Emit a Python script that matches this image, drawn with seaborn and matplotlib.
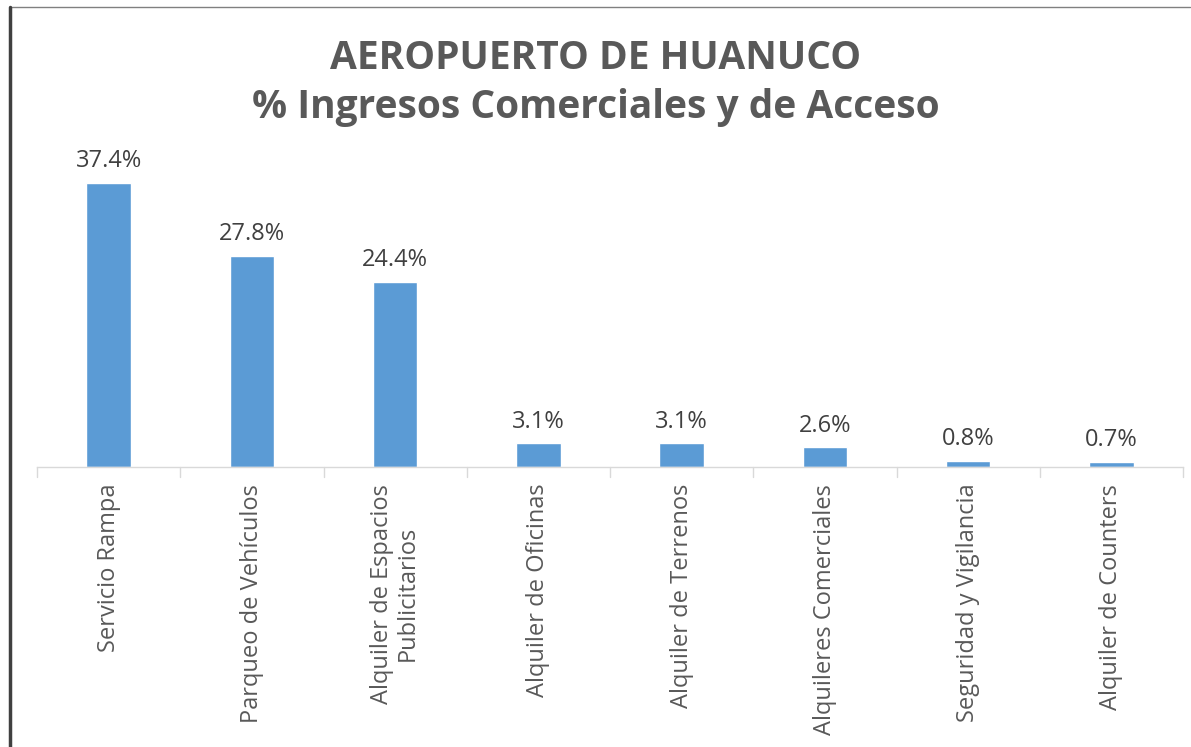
import matplotlib
matplotlib.use("Agg")
import matplotlib.pyplot as plt
import seaborn as sns
import pandas as pd
from matplotlib.lines import Line2D

# Data
categorias = ["Servicio Rampa", "Parqueo de Vehículos", "Alquiler de Espacios\nPublicitarios",
              "Alquiler de Oficinas", "Alquiler de Terrenos", "Alquileres Comerciales",
              "Seguridad y Vigilancia", "Alquiler de Counters"]
porcentajes = [37.4, 27.8, 24.4, 3.1, 3.1, 2.6, 0.8, 0.7]
titulo = "AEROPUERTO DE HUANUCO\n% Ingresos Comerciales y de Acceso"

df = pd.DataFrame({"cat": categorias, "pct": porcentajes})

sns.set_style("white")
plt.rcParams['font.family'] = ['Open Sans', 'DejaVu Sans']

fig = plt.figure(figsize=(11.91, 7.47), dpi=100)
ax = fig.add_axes([37 / 1191, 1 - 467 / 747, (1183 - 37) / 1191, 330 / 747])

sns.barplot(data=df, x="cat", y="pct", color="#5b9bd5", width=0.31, saturation=1, ax=ax)
ax.set_xlim(-0.5, len(categorias) - 0.5)
ax.set_ylim(0, 330 / 7.6)

for i, v in enumerate(porcentajes):
    ax.annotate(f"{v:.1f}%", (i, v), xytext=(0, 7), textcoords="offset points",
                ha="center", va="bottom", fontsize=17, color="#404040")

ax.set_xlabel("")
ax.set_ylabel("")
ax.set_yticks([])
ax.set_xticks(range(len(categorias)))
ax.set_xticklabels(categorias, rotation=90, fontsize=17, color="#595959", va="top",
                   linespacing=1.1)
ax.tick_params(axis="x", length=0, pad=12)
for s in ["top", "right", "left"]:
    ax.spines[s].set_visible(False)
ax.spines["bottom"].set_color("#d9d9d9")
ax.spines["bottom"].set_linewidth(1)

# category separators below the axis
for k in range(len(categorias) + 1):
    ax.plot([k - 0.5, k - 0.5], [0, -10 / 7.6], color="#d9d9d9", lw=1, clip_on=False)

fig.text(0.5, 1 - 83 / 747, titulo, ha="center", va="center", fontsize=28,
         fontweight="bold", color="#595959", linespacing=1.35)

# frame lines of the screenshot
fig.add_artist(Line2D([10 / 1191, 1190 / 1191], [1 - 7 / 747, 1 - 7 / 747],
                      transform=fig.transFigure, color="#808080", lw=1))
fig.add_artist(Line2D([10 / 1191, 10 / 1191], [0, 1 - 7 / 747],
                      transform=fig.transFigure, color="#404040", lw=2.5))

fig.savefig("out.png", dpi=100, facecolor="white")
